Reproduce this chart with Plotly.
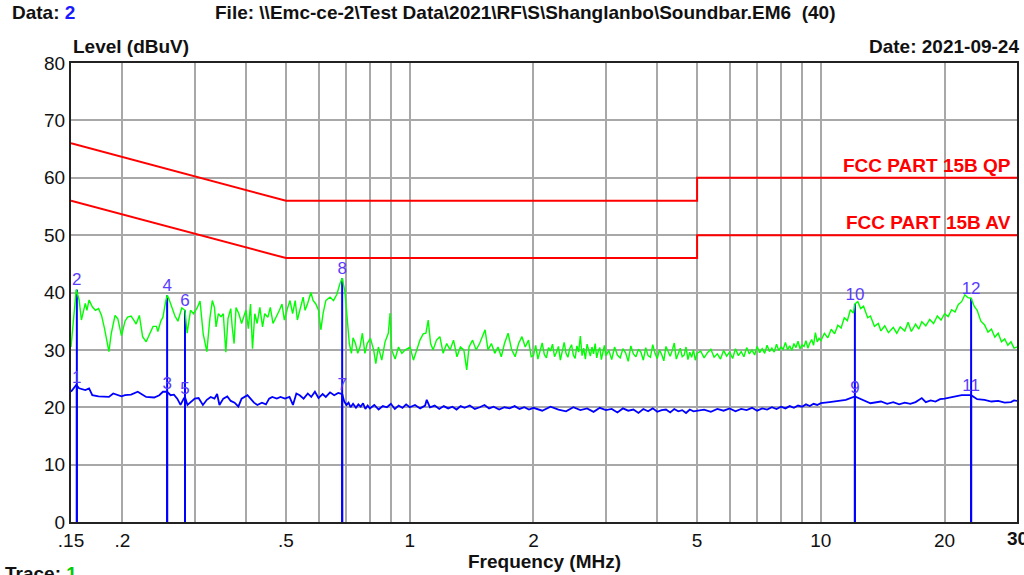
import plotly.graph_objects as go

# ---- data ----
# green trace, 0.15 - 2 MHz
green_freq_a = [
    0.150, 0.1545, 0.157, 0.159, 0.1625, 0.164, 0.166, 0.169, 0.172, 0.175, 0.178, 0.181,
    0.1855, 0.188, 0.192, 0.195, 0.199, 0.203, 0.206, 0.210, 0.214, 0.216, 0.220, 0.224,
    0.2285, 0.234, 0.2375, 0.242, 0.244, 0.248, 0.251, 0.255, 0.257, 0.2595, 0.265, 0.2685,
    0.273, 0.279, 0.284, 0.2875, 0.293, 0.298, 0.304, 0.309, 0.3145, 0.321, 0.3265, 0.331,
    0.335, 0.338, 0.3425, 0.3475, 0.352, 0.357, 0.3615, 0.367, 0.370, 0.374, 0.378, 0.384,
    0.390, 0.3995, 0.405, 0.410, 0.4145, 0.420, 0.4255, 0.432, 0.4385, 0.444, 0.452, 0.458,
    0.465, 0.4735, 0.482, 0.489, 0.4955, 0.505, 0.5115, 0.519, 0.5265, 0.533, 0.5435, 0.5505,
    0.5565, 0.564, 0.575, 0.582, 0.591, 0.600, 0.608, 0.6155, 0.625, 0.640, 0.6525, 0.665,
    0.677, 0.685, 0.6955, 0.702, 0.707, 0.713, 0.7215, 0.728, 0.738, 0.7475, 0.757, 0.767,
    0.778, 0.788, 0.8025, 0.817, 0.827, 0.839, 0.855, 0.871, 0.887, 0.896, 0.904, 0.9215,
    0.939, 0.957, 0.9755, 1.002, 1.021, 1.04, 1.059, 1.0785, 1.095, 1.109, 1.124, 1.14,
    1.162, 1.184, 1.206, 1.23, 1.254, 1.278, 1.303, 1.328, 1.354, 1.376, 1.394, 1.422,
    1.45, 1.479, 1.50, 1.525, 1.55, 1.58, 1.61, 1.64, 1.67, 1.70, 1.735, 1.77,
    1.805, 1.84, 1.875, 1.91, 1.945, 1.975,
]
green_level_a = [
    30.5, 40.5, 38.7, 35.2, 38.1, 36.9, 38.7, 37.5, 36.9, 37.2, 36.0, 33.7,
    29.7, 32.9, 36.0, 35.4, 32.5, 35.0, 35.7, 35.9, 35.0, 34.5, 36.0, 32.3,
    31.4, 33.2, 34.1, 34.1, 33.2, 35.0, 35.7, 38.5, 39.5, 38.9, 36.9, 35.9,
    35.0, 37.3, 36.9, 32.9, 36.9, 36.3, 37.3, 38.5, 32.8, 29.7, 35.5, 38.6,
    37.4, 34.0, 36.3, 35.8, 36.3, 29.6, 35.5, 37.2, 34.0, 31.1, 37.4, 36.3,
    34.6, 36.9, 33.7, 38.0, 30.2, 36.3, 34.6, 37.4, 34.0, 36.3, 35.7, 37.4,
    34.6, 35.7, 36.9, 38.0, 35.2, 37.4, 38.6, 36.3, 38.6, 35.2, 37.4, 39.2,
    36.9, 38.0, 40.0, 38.6, 38.0, 36.9, 33.5, 36.3, 38.6, 39.2, 38.6, 39.7,
    41.6, 42.5, 40.2, 36.3, 34.0, 31.1, 29.4, 32.1, 31.1, 29.4, 30.5, 32.9,
    29.4, 31.1, 32.0, 30.0, 27.6, 30.5, 28.2, 31.4, 32.9, 36.4, 30.0, 28.4,
    30.5, 29.4, 30.0, 30.5, 28.2, 30.0, 31.7, 32.8, 32.9, 35.2, 31.1, 30.0,
    31.7, 32.3, 29.4, 31.1, 30.0, 31.7, 28.8, 30.5, 30.0, 26.5, 30.5, 31.7,
    30.0, 31.1, 32.3, 33.5, 30.0, 31.1, 29.4, 30.5, 28.8, 31.1, 32.9, 30.0,
    28.8, 31.1, 32.3, 30.5, 31.7, 28.8,
]
# green trace, 2 - 10 MHz
green_freq_b = [
    2.000, 2.025, 2.050, 2.075, 2.100, 2.125, 2.150, 2.175, 2.200, 2.225, 2.250, 2.275,
    2.300, 2.325, 2.350, 2.375, 2.400, 2.425, 2.450, 2.475, 2.500, 2.525, 2.550, 2.575,
    2.600, 2.625, 2.650, 2.675, 2.700, 2.725, 2.750, 2.775, 2.800, 2.825, 2.850, 2.875,
    2.900, 2.925, 2.950, 2.975, 3.000,
    3.05, 3.10, 3.15, 3.20, 3.25, 3.30, 3.35, 3.40, 3.45, 3.50, 3.55, 3.60,
    3.65, 3.70, 3.75, 3.80, 3.85, 3.90, 3.95, 4.00, 4.05, 4.10, 4.15, 4.20,
    4.25, 4.30, 4.35, 4.40, 4.45, 4.50, 4.55, 4.60, 4.65, 4.70, 4.75, 4.80,
    4.85, 4.90, 4.95, 5.00,
    5.1, 5.2, 5.3, 5.4, 5.5, 5.6, 5.7, 5.8, 5.9, 6.0, 6.1, 6.2,
    6.3, 6.4, 6.5, 6.6, 6.7, 6.8, 6.9, 7.0, 7.1, 7.2, 7.3, 7.4,
    7.5, 7.6, 7.7, 7.8, 7.9, 8.0, 8.1, 8.2, 8.3, 8.4, 8.5, 8.6,
    8.7, 8.8, 8.9, 9.0, 9.1, 9.2, 9.3, 9.4, 9.5, 9.6, 9.7, 9.8,
    9.9, 10.0,
]
green_level_b = [
    29.0, 30.8, 28.4, 30.0, 31.2, 29.2, 28.6, 30.4, 29.8, 31.0, 28.8, 29.6,
    30.6, 28.2, 29.9, 31.3, 29.4, 28.7, 30.2, 30.9, 29.1, 28.5, 30.7, 29.6,
    32.4, 29.0, 30.3, 28.4, 31.0, 29.7, 28.9, 30.5, 29.3, 31.1, 28.6, 29.8,
    30.4, 28.3, 29.5, 30.8, 29.0,
    29.9, 28.3, 30.5, 29.1, 28.6, 30.2, 29.5, 28.0, 30.7, 29.3, 28.8, 30.1,
    29.6, 28.2, 30.4, 29.0, 28.7, 30.9, 29.4, 28.5, 30.0, 29.2, 28.1, 30.6,
    29.7, 28.9, 29.9, 31.2, 28.4, 29.5, 30.3, 28.8, 29.1, 30.5, 28.3, 29.6,
    28.7, 30.0, 28.2, 29.4,
    29.8, 28.6, 29.5, 30.1, 28.7, 29.3, 28.4, 29.9, 28.9, 29.6, 28.5, 30.2,
    29.0, 29.7, 28.8, 30.4, 29.3, 30.0, 29.1, 30.6, 29.5, 30.2, 29.4, 30.8,
    29.7, 30.3, 29.6, 31.0, 29.9, 30.5, 30.1, 31.3, 30.0, 30.7, 29.9, 31.1,
    30.4, 31.5, 30.2, 30.9, 30.6, 31.6, 30.3, 31.2, 31.8, 30.8, 33.0, 31.4,
    32.0, 31.6,
]
# green trace, 10 - 30 MHz
green_freq_c = [
    10.2, 10.4, 10.6, 10.8, 11.0, 11.2, 11.4, 11.6, 11.8, 12.0, 12.1, 12.3,
    12.5, 12.7, 13.0, 13.2, 13.5, 13.8, 14.0, 14.3, 14.6, 15.0, 15.3, 15.6,
    16.0, 16.3, 16.6, 17.0, 17.3, 17.6, 18.0, 18.4, 18.8, 19.2, 19.6, 20.0,
    20.4, 20.8, 21.2, 21.6, 22.0, 22.4, 22.8, 23.2, 23.6, 24.0, 24.5, 25.0,
    25.5, 26.0, 26.5, 27.0, 27.5, 28.0, 28.5, 29.0, 29.5, 30.0,
]
green_level_c = [
    32.9, 32.1, 33.6, 32.8, 34.3, 33.8, 35.6, 35.1, 37.0, 36.4, 38.0, 38.4,
    37.2, 37.6, 35.6, 35.9, 34.1, 34.6, 33.3, 34.2, 33.0, 33.9, 32.9, 34.0,
    33.3, 34.8, 33.2, 34.5, 33.6, 34.9, 34.2, 35.3, 34.6, 35.9, 35.2, 36.3,
    35.8, 37.0, 36.6, 37.9, 38.4, 39.6, 39.1, 39.0, 37.6, 36.9, 35.0, 34.4,
    33.1, 33.6, 32.2, 32.9, 31.4, 31.9, 30.8, 31.4, 30.3, 30.5,
]

# blue trace
blue_freq = [
    0.150, 0.1545, 0.157, 0.160, 0.1625, 0.166, 0.169, 0.175, 0.178, 0.1855, 0.190, 0.195,
    0.199, 0.203, 0.210, 0.218, 0.224, 0.2285, 0.239, 0.246, 0.251, 0.257, 0.262, 0.267,
    0.272, 0.277, 0.282, 0.284, 0.288, 0.293, 0.300, 0.3065, 0.314, 0.321, 0.328, 0.335,
    0.340, 0.3445, 0.352, 0.360, 0.367, 0.375, 0.383, 0.390, 0.398, 0.403, 0.410, 0.418,
    0.426, 0.437, 0.447, 0.455, 0.463, 0.475, 0.485, 0.497, 0.510, 0.520, 0.530, 0.540,
    0.552, 0.565, 0.576, 0.588, 0.600, 0.614, 0.625, 0.640, 0.655, 0.670, 0.685, 0.693,
    0.702, 0.710, 0.718, 0.728, 0.740, 0.75, 0.76, 0.77, 0.78, 0.79, 0.80, 0.82,
    0.84, 0.86, 0.88, 0.90, 0.92, 0.94, 0.96, 0.98, 1.00, 1.03, 1.06, 1.09,
    1.10, 1.12, 1.15, 1.18, 1.21, 1.24, 1.27, 1.30, 1.33, 1.36, 1.40, 1.44,
    1.48, 1.52, 1.56, 1.60, 1.65, 1.70, 1.75, 1.80, 1.85, 1.90, 1.95,
    2.0, 2.1, 2.2, 2.3, 2.4, 2.5, 2.6, 2.7, 2.8, 2.9, 3.0, 3.1,
    3.2, 3.3, 3.4, 3.5, 3.6, 3.7, 3.8, 3.9, 4.0, 4.1, 4.2, 4.3,
    4.4, 4.5, 4.6, 4.7, 4.8, 4.9, 5.0,
    5.2, 5.4, 5.6, 5.8, 6.0, 6.2, 6.4, 6.6, 6.8, 7.0, 7.2, 7.4,
    7.6, 7.8, 8.0, 8.2, 8.4, 8.6, 8.8, 9.0, 9.2, 9.4, 9.6, 9.8, 10.0,
    10.5, 11.0, 11.5, 12.1, 12.6, 13.2, 14.0, 14.5, 15.0, 15.5, 16.0, 16.5,
    17.0, 17.6, 18.0, 18.5, 19.0, 19.5, 20.0, 21.0, 22.0, 23.2, 24.0, 25.0,
    26.0, 27.0, 28.0, 29.0, 29.5, 30.0,
]
blue_level = [
    22.7, 23.9, 23.3, 23.1, 23.0, 23.3, 22.1, 21.9, 21.9, 21.8, 22.4, 22.1,
    21.9, 22.1, 22.2, 22.7, 22.1, 21.8, 21.7, 22.1, 22.7, 22.7, 22.1, 22.2,
    21.5, 20.4, 21.5, 21.8, 20.4, 20.9, 21.5, 21.6, 20.4, 21.3, 21.8, 21.5,
    22.3, 20.4, 21.5, 21.9, 21.1, 20.8, 20.1, 21.5, 21.9, 22.1, 21.5, 20.8,
    20.4, 20.8, 20.5, 21.5, 21.8, 21.5, 21.8, 21.5, 21.8, 20.4, 22.4, 22.1,
    21.5, 22.4, 21.8, 22.7, 21.6, 22.3, 21.8, 22.6, 22.1, 22.5, 22.3, 21.0,
    20.4, 20.8, 20.0, 20.6, 19.9, 20.5, 20.1, 20.7, 19.7, 20.3, 19.8, 20.4,
    19.6, 20.2, 20.0, 20.6, 19.7, 20.3, 19.9, 20.5, 20.0, 20.4, 19.8, 20.3,
    21.3, 20.0, 20.3, 19.7, 20.2, 19.8, 20.1, 19.6, 20.2, 19.9, 20.3, 19.7,
    20.0, 20.4, 19.8, 20.1, 19.6, 20.0, 19.8, 20.2, 19.7, 20.0, 19.6,
    19.9, 19.4, 20.1, 19.6, 19.3, 20.0, 19.5, 19.8, 19.2, 19.9, 19.5, 19.7,
    19.1, 19.8, 19.4, 19.6, 19.0, 19.7, 19.3, 19.8, 19.2, 19.5, 19.6, 19.1,
    19.7, 19.3, 19.5, 19.0, 19.6, 19.3, 19.4,
    19.6, 19.2, 19.7, 19.4, 19.8, 19.3, 19.7, 19.5, 19.9, 19.4, 19.8, 19.6,
    20.0, 19.7, 20.1, 19.8, 20.2, 19.9, 20.3, 20.1, 20.5, 20.2, 20.6, 20.4, 20.7,
    20.9, 21.1, 21.3, 21.9, 21.4, 20.7, 21.0, 20.6, 20.9, 20.5, 20.8, 20.6,
    20.9, 21.6, 20.9, 21.2, 21.0, 21.4, 21.5, 21.8, 22.1, 22.1, 21.4, 21.3,
    21.0, 21.1, 20.8, 20.9, 21.2, 21.1,
]

qp_freq = [0.15, 0.5, 5.0, 5.0, 30.0]
qp_level = [66, 56, 56, 60, 60]
av_freq = [0.15, 0.5, 5.0, 5.0, 30.0]
av_level = [56, 46, 46, 50, 50]

marker_no = ["1", "2", "3", "4", "5", "6", "7", "8", "9", "10", "11", "12"]
marker_freq = [0.155, 0.155, 0.257, 0.257, 0.284, 0.284, 0.685, 0.685, 12.1, 12.1, 23.2, 23.2]
marker_level = [23.5, 40.5, 22.5, 39.5, 21.6, 36.9, 22.3, 42.5, 21.8, 38.0, 22.1, 39.0]

grid_freq = [0.15, 0.2, 0.3, 0.4, 0.5, 0.6, 0.7, 0.8, 0.9, 1, 2, 3, 4, 5, 6, 7, 8, 9, 10, 20, 30]
grid_text = [".15", ".2", "", "", ".5", "", "", "", "", "1", "2", "", "", "5", "", "", "", "", "10", "20", "30"]

green_freq = green_freq_a + green_freq_b + green_freq_c
green_level = green_level_a + green_level_b + green_level_c

FONT = "Liberation Sans, Arial, sans-serif"
FS = 19

fig = go.Figure()

# limit lines
for fx, fy in ((qp_freq, qp_level), (av_freq, av_level)):
    fig.add_trace(go.Scatter(x=fx, y=fy, mode="lines",
                             line=dict(color="#ff0000", width=2), hoverinfo="skip"))

# marker drop lines
mx, my = [], []
for f, lv in zip(marker_freq, marker_level):
    mx += [f, f, None]
    my += [0, lv, None]
fig.add_trace(go.Scatter(x=mx, y=my, mode="lines",
                         line=dict(color="#0000ff", width=2), hoverinfo="skip"))

fig.add_trace(go.Scatter(x=green_freq, y=green_level, mode="lines",
                         line=dict(color="#00ff00", width=1.4)))
fig.add_trace(go.Scatter(x=blue_freq, y=blue_level, mode="lines",
                         line=dict(color="#0000ff", width=1.8)))

fig.add_trace(go.Scatter(x=marker_freq, y=marker_level, mode="text", text=marker_no,
                         textposition="top center",
                         textfont=dict(family=FONT, size=17, color="#5a3cff")))

bold = dict(family=FONT, size=FS, color="#111111")
ann = [
    dict(x=-0.0645, y=1.109, text="<b>Data: <span style='color:#1a1aff'>2</span></b>", xanchor="left"),
    dict(x=0.150, y=1.109, text="<b>File: \\\\Emc-ce-2\\Test Data\\2021\\RF\\S\\Shanglanbo\\Soundbar.EM6  (40)</b>", xanchor="left"),
    dict(x=0.0, y=1.035, text="<b>Level (dBuV)</b>", xanchor="left"),
    dict(x=1.004, y=1.035, text="<b>Date: 2021-09-24</b>", xanchor="right"),
    dict(x=0.501, y=-0.087, text="<b>Frequency (MHz)</b>", xanchor="center"),
    dict(x=-0.0719, y=-0.113, text="<b>Trace: <span style='color:#00cc00'>1</span></b>", xanchor="left"),
    # last x tick label, partly cut at the right edge like the reference
    dict(x=1.0, y=-0.035, text="<b>%s</b>" % grid_text[-1], xanchor="center"),
]
annotations = [dict(a, xref="paper", yref="paper", yanchor="middle", showarrow=False, font=bold) for a in ann]
red = dict(family=FONT, size=FS, color="#ff0000")
annotations += [
    dict(x=0.996, y=qp_level[-1], xref="paper", yref="y", xanchor="right", yanchor="bottom",
         text="<b>FCC PART 15B QP</b>", showarrow=False, font=red, yshift=0),
    dict(x=0.996, y=av_level[-1], xref="paper", yref="y", xanchor="right", yanchor="bottom",
         text="<b>FCC PART 15B AV</b>", showarrow=False, font=red, yshift=0),
]

fig.update_layout(
    width=1024, height=575,
    margin=dict(l=71, r=7, t=63, b=53, autoexpand=False),
    paper_bgcolor="white", plot_bgcolor="white",
    showlegend=False,
    annotations=annotations,
    font=dict(family=FONT),
    xaxis=dict(
        type="log", range=[-0.8239, 1.4771], automargin=False,
        tickmode="array", tickvals=grid_freq, ticktext=grid_text,
        showgrid=True, gridcolor="#a8a8a8", gridwidth=1.5,
        showline=True, linecolor="#222222", linewidth=2, mirror=True,
        ticks="", zeroline=False,
        tickfont=dict(family=FONT, size=FS, color="#111111"),
    ),
    yaxis=dict(
        range=[0, 80], tickmode="array", tickvals=[0, 10, 20, 30, 40, 50, 60, 70, 80],
        automargin=False,
        showgrid=True, gridcolor="#a8a8a8", gridwidth=1.5,
        showline=True, linecolor="#222222", linewidth=2, mirror=True,
        ticks="", zeroline=False,
        tickfont=dict(family=FONT, size=FS, color="#111111"),
    ),
)

# page body margin would shift the figure by 8px; remove it
fig.write_html("out.html", config={"displayModeBar": False},
               post_script="document.body.style.margin='0';document.body.style.overflow='hidden';")
